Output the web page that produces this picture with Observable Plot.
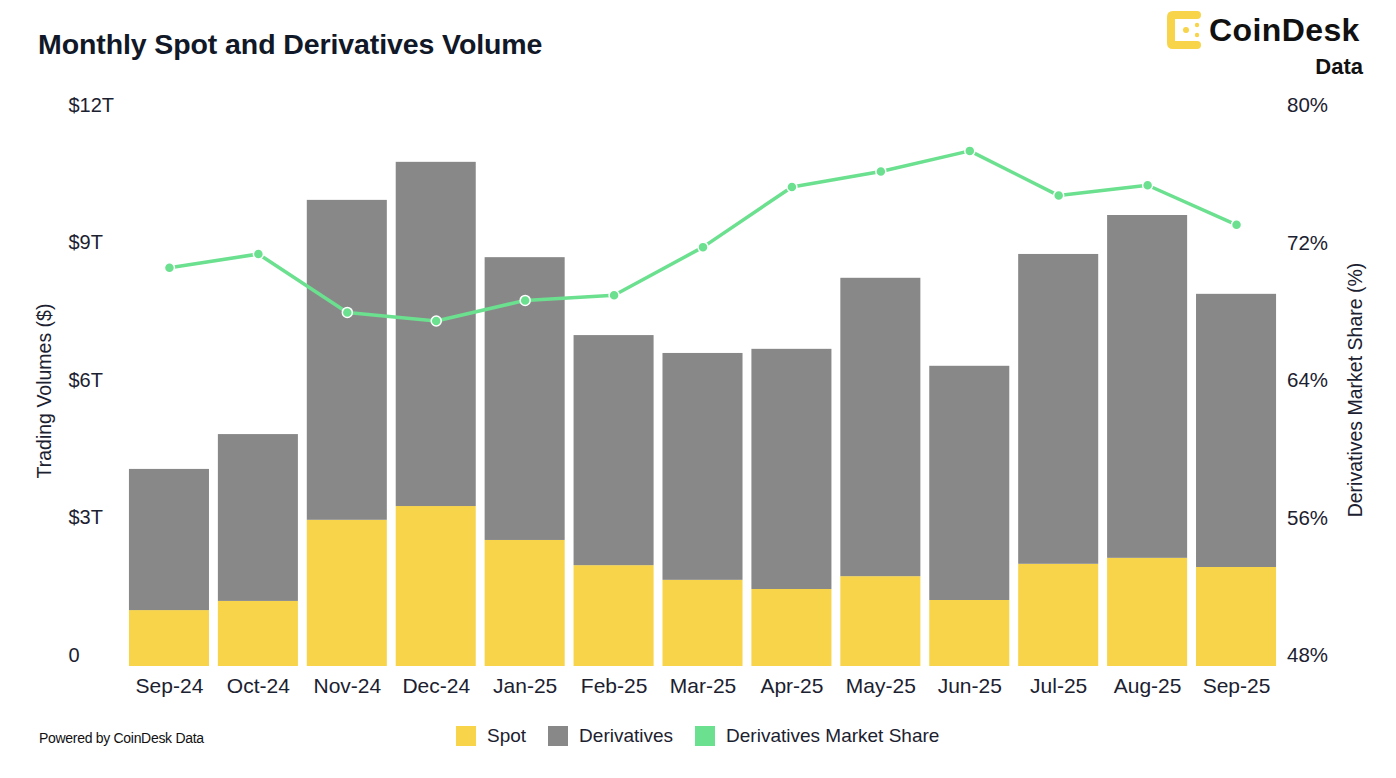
<!DOCTYPE html>
<html>
<head>
<meta charset="utf-8">
<script src="https://cdn.jsdelivr.net/npm/d3@7"></script>
<script src="https://cdn.jsdelivr.net/npm/@observablehq/plot@0.6"></script>
<style>
  body { margin:0; width:1396px; height:778px; position:relative; background:#fff; overflow:hidden;
         font-family:"Liberation Sans", Arial, sans-serif; color:#1B2130; }
  .abs { position:absolute; white-space:nowrap; }
  #title { left:38px; top:30px; font-weight:bold; font-size:28.5px; line-height:1; letter-spacing:-0.1px; color:#111827; }
  .ytitle { font-size:19.5px; line-height:1; transform:translate(-50%,-50%) rotate(-90deg); }
  #legend { left:456px; top:726px; display:flex; align-items:center; font-size:19px; line-height:20px; }
  #legend .sw { width:20px; height:20px; margin-right:11px; }
  #legend .item { display:flex; align-items:center; margin-right:22px; }
  #caption { left:39px; top:730px; font-size:14px; letter-spacing:-0.3px; color:#111; }
  #logo-text { left:1209px; top:14px; font-weight:bold; font-size:32px; line-height:1; letter-spacing:0.4px; color:#111; }
  #logo-data { right:33px; top:55.5px; font-weight:bold; font-size:22px; line-height:1; color:#111; }
</style>
</head>
<body>
<div id="title" class="abs">Monthly Spot and Derivatives Volume</div>
<svg class="abs" style="left:1166px; top:10px" width="38" height="40" viewBox="0 0 38 40">
  <path d="M31 5 H7 Q5 5 5 7 V33 Q5 35 7 35 H31" fill="none" stroke="#F7D44A" stroke-width="8" stroke-linecap="round" stroke-linejoin="round"/>
  <circle cx="20" cy="20" r="3" fill="#F7D44A"/>
  <circle cx="31" cy="15" r="2.2" fill="#F7D44A"/>
  <circle cx="31" cy="25" r="2.2" fill="#F7D44A"/>
</svg>
<div id="logo-text" class="abs">CoinDesk</div>
<div id="logo-data" class="abs">Data</div>
<div id="chart" class="abs" style="left:0; top:90px"></div>
<div class="abs ytitle" style="left:45px; top:391px">Trading Volumes ($)</div>
<div class="abs ytitle" style="left:1356px; top:390px">Derivatives Market Share (%)</div>
<div id="legend" class="abs">
  <div class="item"><div class="sw" style="background:#F7D44A"></div>Spot</div>
  <div class="item"><div class="sw" style="background:#888888"></div>Derivatives</div>
  <div class="item"><div class="sw" style="background:#6BE08F"></div>Derivatives Market Share</div>
</div>
<div id="caption" class="abs">Powered by CoinDesk Data</div>
<script>
const months = ["Sep-24","Oct-24","Nov-24","Dec-24","Jan-25","Feb-25","Mar-25","Apr-25","May-25","Jun-25","Jul-25","Aug-25","Sep-25"];
const spot = [1.22, 1.42, 3.19, 3.49, 2.75, 2.20, 1.88, 1.68, 1.96, 1.44, 2.23, 2.36, 2.16];
const derivatives = [3.08, 3.64, 6.98, 7.51, 6.17, 5.02, 4.95, 5.24, 6.51, 5.11, 6.76, 7.48, 5.96];
const marketShare = [71.2, 72.0, 68.6, 68.1, 69.3, 69.6, 72.4, 75.9, 76.8, 78.0, 75.4, 76.0, 73.7];
const leftTicks = [0, 3, 6, 9, 12];
const shareMin = 48, shareMax = 80;

const YELLOW = "#F7D44A", GRAY = "#888888", GREEN = "#6BE08F";

const bars = months.flatMap((m, i) => [
  {month: m, series: "Spot", value: spot[i]},
  {month: m, series: "Derivatives", value: derivatives[i]}
]);
const yMax = leftTicks[leftTicks.length - 1];
const toY = p => (p - shareMin) / (shareMax - shareMin) * yMax;
const line = months.map((m, i) => ({month: m, share: marketShare[i]}));

const chart = Plot.plot({
  width: 1396,
  height: 620,
  marginLeft: 124.5,
  marginRight: 115.5,
  marginTop: 26,
  marginBottom: 44,
  style: {fontFamily: "Liberation Sans, Arial, sans-serif", fontSize: "20px", color: "#1B2130", background: "transparent"},
  x: {type: "band", domain: months, paddingInner: 0.1, paddingOuter: 0.05, round: false, label: null},
  y: {domain: [0, yMax], label: null},
  color: {domain: ["Spot", "Derivatives"], range: [YELLOW, GRAY]},
  marks: [
    Plot.barY(bars, {x: "month", y: "value", fill: "series", order: null}),
    Plot.line(line, {x: "month", y: d => toY(d.share), stroke: GREEN, strokeWidth: 3.5}),
    Plot.dot(line, {x: "month", y: d => toY(d.share), r: 5, fill: GREEN, stroke: "white", strokeWidth: 1.5}),
    Plot.axisX({tickSize: 0, tickPadding: 12, fontSize: 21, label: null}),
    Plot.axisY(leftTicks, {anchor: "left", tickSize: 0, tickPadding: 0, textAnchor: "start", dx: -56.5, dy: -11,
      tickFormat: d => d === 0 ? "0" : `$${d}T`, label: null}),
    Plot.axisY(leftTicks, {anchor: "right", tickSize: 0, tickPadding: 6, dy: -11, fontSize: 20.5,
      tickFormat: d => `${shareMin + d / yMax * (shareMax - shareMin)}%`, label: null})
  ]
});
document.getElementById("chart").appendChild(chart);
</script>
</body>
</html>
